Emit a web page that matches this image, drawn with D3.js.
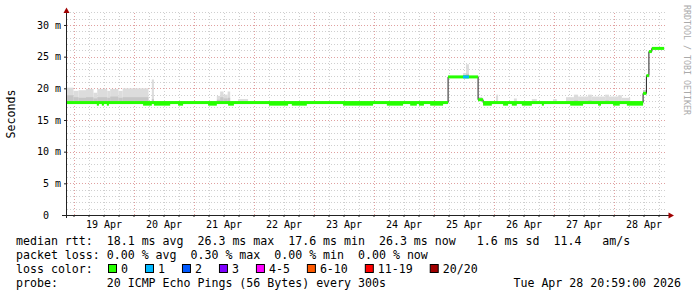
<!DOCTYPE html>
<html lang="en">
<meta charset="utf-8">
<head>
<script src="https://d3js.org/d3.v7.min.js"></script>
<style>
  body { margin: 0; background: #fff; }
  svg text { font-family: "DejaVu Sans Mono", monospace; white-space: pre; }
</style>
</head>
<body>
<script>
// ---- data (times in 2026, rtt in ms) ----
// median rtt steps: each value holds from its start until the next start
var medTimes  = ["04-18 21:24", "04-25 05:50", "04-25 17:50", "04-25 19:50", "04-28 11:50",
                 "04-28 13:10", "04-28 14:10", "04-28 15:20", "04-28 20:15"];
var medValues = [17.75, 21.8, 18.2, 17.75, 19.2, 22.0, 25.8, 26.3];

// short stretches where the median dipped
var dipStart = ["04-19 09:20", "04-19 11:20", "04-19 13:20", "04-20 03:50", "04-20 08:10", "04-20 17:50",
                "04-21 05:50", "04-21 13:50", "04-22 06:10", "04-22 15:20", "04-23 11:50", "04-24 05:20",
                "04-24 14:40", "04-24 18:10", "04-24 22:40", "04-25 19:50", "04-26 03:50", "04-26 07:20",
                "04-26 11:20", "04-26 19:20", "04-27 06:40", "04-27 17:50", "04-27 23:50", "04-28 05:20"];
var dipEnd   = ["04-19 10:10", "04-19 12:10", "04-19 14:10", "04-20 07:20", "04-20 14:40", "04-20 19:50",
                "04-21 09:20", "04-21 16:10", "04-22 13:50", "04-22 21:20", "04-23 23:50", "04-24 11:50",
                "04-24 17:20", "04-24 20:10", "04-25 03:50", "04-25 23:20", "04-26 05:50", "04-26 09:20",
                "04-26 15:20", "04-26 20:10", "04-27 11:50", "04-27 19:00", "04-28 02:30", "04-28 11:50"];
var dipValue = 17.5;

// smoke (spread of the 20 pings): outer top and inner (denser) top
var smokeStart = ["04-18 21:24", "04-19 00:00", "04-19 02:00", "04-19 05:00", "04-19 08:00", "04-19 09:30",
                  "04-19 13:30", "04-19 14:40", "04-19 18:00", "04-19 19:40", "04-20 07:20",
                  "04-21 09:20", "04-21 10:40", "04-21 12:00", "04-21 13:40", "04-21 17:50",
                  "04-25 11:50", "04-25 13:00", "04-25 17:50",
                  "04-26 01:00", "04-26 08:10", "04-26 15:20", "04-26 23:50", "04-27 05:00", "04-27 08:10",
                  "04-27 09:50", "04-27 13:50", "04-27 15:20", "04-27 20:40", "04-27 22:10", "04-28 01:50",
                  "04-28 03:20", "04-28 11:50"];
var smokeEnd   = ["04-19 00:00", "04-19 02:00", "04-19 05:00", "04-19 08:00", "04-19 09:30", "04-19 13:30",
                  "04-19 14:40", "04-19 18:00", "04-19 19:40", "04-20 06:00", "04-20 08:10",
                  "04-21 10:40", "04-21 12:00", "04-21 13:40", "04-21 14:40", "04-21 21:50",
                  "04-25 13:00", "04-25 14:10", "04-25 19:30",
                  "04-26 01:50", "04-26 09:20", "04-26 17:20", "04-27 01:20", "04-27 08:10", "04-27 09:50",
                  "04-27 13:50", "04-27 15:20", "04-27 20:40", "04-27 22:10", "04-28 01:50", "04-28 03:20",
                  "04-28 06:40", "04-28 13:10"];
var smokeHi    = [20.1, 19.6, 19.7, 19.9, 19.3, 19.9, 19.6, 19.9, 19.6, 20.0, 21.4,
                  18.8, 19.5, 19.0, 19.5, 18.3,
                  22.4, 23.8, 18.55,
                  19.0, 18.4, 18.3, 18.3, 18.6, 19.0, 18.7, 19.0, 18.7, 19.0, 18.7, 18.9, 18.5, 19.7];
var smokeMid   = [18.9, 18.6, 18.5, 18.6, 18.4, 18.6, 18.5, 18.7, 18.5, 18.6, 18.3,
                  18.2, 18.6, 18.4, 18.5, 18.0,
                  22.1, 22.3, 18.55,
                  18.0, 17.9, 17.9, 17.9, 18.0, 18.1, 18.0, 18.1, 18.0, 18.1, 18.0, 18.0, 17.9, 19.7];

// packet loss (pings lost out of 20)
var lossStart = ["04-25 11:50"];
var lossEnd   = ["04-25 14:10"];
var lossCount = [1];

var lossLabels = ["0", "1", "2", "3", "4-5", "6-10", "11-19", "20/20"];
var lossColors = ["#26ff00", "#00b8ff", "#0059ff", "#7e00ff", "#ff00ff", "#ff5a00", "#ff0000", "#a00000"];
var lossMax    = [0, 1, 2, 3, 5, 10, 19, 20];

var yTicks = [0, 5, 10, 15, 20, 25, 30];

var legendLines = [
  "median rtt:  18.1 ms avg  26.3 ms max  17.6 ms min  26.3 ms now   1.6 ms sd  11.4   am/s",
  "packet loss: 0.00 % avg  0.30 % max  0.00 % min  0.00 % now",
  "loss color:",
  "probe:       20 ICMP Echo Pings (56 Bytes) every 300s"
];
var stamp = "Tue Apr 28 20:59:00 2026";

// ---- drawing ----
var parse = d3.timeParse("%Y-%m-%d %H:%M");
function t(s) { return parse("2026-" + s); }

var svg = d3.select("body").append("svg")
    .attr("width", 697)
    .attr("height", 297);

var x = d3.scaleTime()
    .domain([t("04-18 21:24"), t("04-28 21:24")])
    .range([67, 667]);
var y = d3.scaleLinear()
    .domain([0, 32])
    .range([215, 12.3]);

function px(v) { return Math.round(v) + 0.5; }

// grid
var sixHours = d3.timeHour.every(6).range(x.domain()[0], x.domain()[1]);
var midnights = d3.timeDay.range(x.domain()[0], x.domain()[1]);
var noons = midnights.map(function(d) { return d3.timeHour.offset(d, 12); });
var msMinor = d3.range(1, 33).filter(function(v) { return v % 5 != 0; });
var msMajor = d3.range(5, 33, 5);

var grid = svg.append("g");
grid.selectAll(".vmin").data(sixHours.filter(function(d) { return d.getHours() != 0; }))
  .enter().append("line")
    .attr("x1", function(d) { return px(x(d)); })
    .attr("x2", function(d) { return px(x(d)); })
    .attr("y1", 215).attr("y2", 12)
    .attr("stroke", "#cfcfcf").attr("stroke-dasharray", "1,2");
grid.selectAll(".hmin").data(msMinor)
  .enter().append("line")
    .attr("x1", 67).attr("x2", 667)
    .attr("y1", function(d) { return px(y(d)); })
    .attr("y2", function(d) { return px(y(d)); })
    .attr("stroke", "#cfcfcf").attr("stroke-dasharray", "1,2");
grid.selectAll(".vmaj").data(midnights)
  .enter().append("line")
    .attr("x1", function(d) { return px(x(d)); })
    .attr("x2", function(d) { return px(x(d)); })
    .attr("y1", 215).attr("y2", 12)
    .attr("stroke", "#e0a0a0").attr("stroke-dasharray", "1,2");
grid.selectAll(".hmaj").data(msMajor)
  .enter().append("line")
    .attr("x1", 67).attr("x2", 667)
    .attr("y1", function(d) { return px(y(d)); })
    .attr("y2", function(d) { return px(y(d)); })
    .attr("stroke", "#e0a0a0").attr("stroke-dasharray", "1,2");

// median lookup
var medDates = medTimes.map(t);
function medianAt(d) {
  var i = d3.bisectRight(medDates, d) - 1;
  return medValues[Math.max(0, Math.min(i, medValues.length - 1))];
}

// smoke
var smoke = smokeStart.map(function(s, i) {
  return { t0: t(s), t1: t(smokeEnd[i]), hi: smokeHi[i], mid: smokeMid[i] };
});
svg.selectAll(".smokeOuter").data(smoke).enter().append("rect")
    .attr("x", function(d) { return x(d.t0); })
    .attr("width", function(d) { return x(d.t1) - x(d.t0); })
    .attr("y", function(d) { return y(d.hi); })
    .attr("height", function(d) { return y(medianAt(d.t0)) - y(d.hi); })
    .attr("fill", "#dcdcdc");
svg.selectAll(".smokeInner").data(smoke).enter().append("rect")
    .attr("x", function(d) { return x(d.t0); })
    .attr("width", function(d) { return x(d.t1) - x(d.t0); })
    .attr("y", function(d) { return y(d.mid); })
    .attr("height", function(d) { return Math.max(0, y(medianAt(d.t0)) - y(d.mid)); })
    .attr("fill", "#c6c6c6");

// black step line joining the medians
var medPts = medValues.map(function(v, i) { return [medDates[i], v]; });
medPts.push([medDates[medDates.length - 1], medValues[medValues.length - 1]]);
svg.append("path")
    .datum(medPts)
    .attr("fill", "none")
    .attr("stroke", "#202020")
    .attr("stroke-width", 1)
    .attr("d", d3.line()
        .curve(d3.curveStepAfter)
        .x(function(d) { return x(d[0]); })
        .y(function(d) { return y(d[1]); }));

// median band coloured by loss
var med = medValues.map(function(v, i) { return { t0: medDates[i], t1: medDates[i + 1], v: v }; });
svg.selectAll(".med").data(med).enter().append("rect")
    .attr("x", function(d) { return x(d.t0); })
    .attr("width", function(d) { return x(d.t1) - x(d.t0); })
    .attr("y", function(d) { return y(d.v) - 1.5; })
    .attr("height", 3)
    .attr("fill", lossColors[0]);

var dips = dipStart.map(function(s, i) { return { t0: t(s), t1: t(dipEnd[i]) }; });
svg.selectAll(".dip").data(dips).enter().append("rect")
    .attr("x", function(d) { return x(d.t0); })
    .attr("width", function(d) { return x(d.t1) - x(d.t0); })
    .attr("y", y(dipValue) - 1.5)
    .attr("height", 3)
    .attr("fill", lossColors[0]);

function lossColor(n) {
  for (var i = 0; i < lossMax.length; i++) if (n <= lossMax[i]) return lossColors[i];
  return lossColors[lossColors.length - 1];
}
var loss = lossStart.map(function(s, i) { return { t0: t(s), t1: t(lossEnd[i]), n: lossCount[i] }; });
svg.selectAll(".loss").data(loss).enter().append("rect")
    .attr("x", function(d) { return x(d.t0); })
    .attr("width", function(d) { return x(d.t1) - x(d.t0); })
    .attr("y", function(d) { return y(medianAt(d.t0)) - 1.5; })
    .attr("height", 3)
    .attr("fill", function(d) { return lossColor(d.n); });

// axes
var xTicks = svg.append("g")
    .attr("transform", "translate(0,215)")
    .call(d3.axisBottom(x).tickValues(sixHours).tickSize(2).tickFormat(""));
xTicks.select(".domain").remove();
xTicks.attr("color", "#222");

var xLabels = svg.append("g")
    .attr("transform", "translate(0,215)")
    .call(d3.axisBottom(x).tickValues(noons).tickSize(0).tickPadding(5.5)
        .tickFormat(d3.timeFormat("%d %b")));
xLabels.select(".domain").remove();
xLabels.attr("font-family", "DejaVu Sans Mono").attr("font-size", 10).attr("color", "#000");

var yAxis = svg.append("g")
    .attr("transform", "translate(67,0)")
    .call(d3.axisLeft(y).tickValues(yTicks).tickSize(3).tickPadding(3)
        .tickFormat(function(d) { return d == 0 ? "0  " : d + " m"; }));
yAxis.select(".domain").remove();
yAxis.attr("font-family", "DejaVu Sans Mono").attr("font-size", 10).attr("color", "#000");
yAxis.selectAll(".tick line").attr("stroke", "#222");

svg.append("line").attr("x1", 62).attr("x2", 669).attr("y1", 215.5).attr("y2", 215.5)
    .attr("stroke", "#222");
svg.append("line").attr("x1", 66.5).attr("x2", 66.5).attr("y1", 218).attr("y2", 11)
    .attr("stroke", "#222");
svg.append("path").attr("d", "M63.5,13L69.5,13L66.5,7.5Z").attr("fill", "#a00000");
svg.append("path").attr("d", "M668.5,212.5L668.5,218.5L674,215.5Z").attr("fill", "#a00000");

// axis titles
svg.append("text")
    .attr("transform", "translate(15,114) rotate(-90)")
    .attr("text-anchor", "middle")
    .attr("font-size", 11.6)
    .text("Seconds");
svg.append("text")
    .attr("transform", "translate(684,5) rotate(90)")
    .attr("font-size", 8.3)
    .attr("fill", "#aaa")
    .text("RRDTOOL / TOBI OETIKER");

// legend
var rows = [244.5, 258.7, 272.9, 287];
svg.selectAll(".leg").data(legendLines).enter().append("text")
    .attr("x", 16)
    .attr("y", function(d, i) { return rows[i]; })
    .attr("font-size", 11.6)
    .text(function(d) { return d; });

svg.append("text")
    .attr("x", 681).attr("y", rows[3])
    .attr("text-anchor", "end")
    .attr("font-size", 11.6)
    .text(stamp);

var lx = 108;
lossLabels.forEach(function(lab, i) {
  svg.append("rect")
      .attr("x", lx + 0.5).attr("y", 264.5)
      .attr("width", 8).attr("height", 8)
      .attr("fill", lossColors[i])
      .attr("stroke", "#000");
  var tx = svg.append("text")
      .attr("x", lx + 13).attr("y", rows[2])
      .attr("font-size", 11.6)
      .text(lab);
  lx = lx + 13 + tx.node().getComputedTextLength() + 17;
});
</script>
</body>
</html>
